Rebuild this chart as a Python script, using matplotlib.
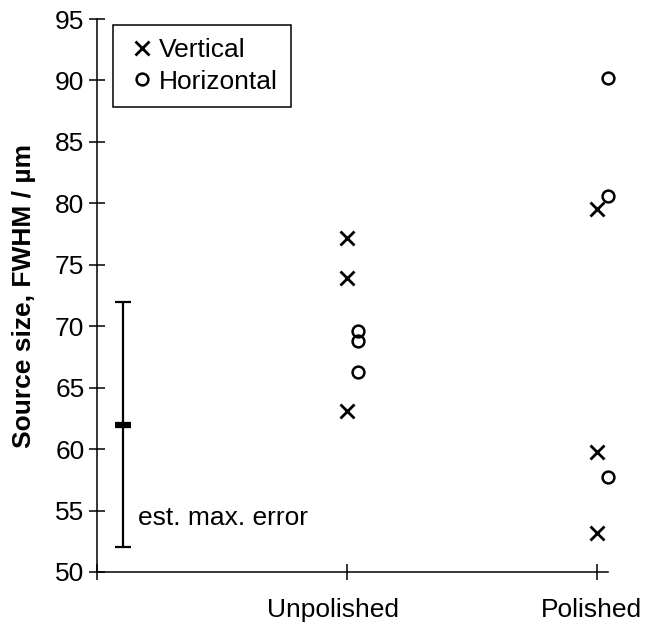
import matplotlib
matplotlib.use("Agg")
import matplotlib.pyplot as plt
from matplotlib.transforms import ScaledTranslation

plt.rcParams['font.family'] = ['Liberation Sans', 'DejaVu Sans']

categories = ['Unpolished', 'Polished']
cat_pos = [1, 2]
h_offset = 0.045

# source size, FWHM in um
vertical = {'Unpolished': [77.2, 73.9, 63.1], 'Polished': [79.5, 59.8, 53.2]}
horizontal = {'Unpolished': [69.6, 68.8, 66.3], 'Polished': [90.2, 80.6, 57.7]}

err_x = 0.105
err_center = 62.0
err_half = 10.0

fig = plt.figure(figsize=(6.51, 6.26), dpi=100)
ax = fig.add_axes([0.149, 0.0863, 0.785, 0.8833])

for cat, xpos in zip(categories, cat_pos):
    v = vertical[cat]
    h = horizontal[cat]
    ax.plot([xpos] * len(v), v, 'x', color='black', markersize=10, mew=2.0,
            label='Vertical' if cat == 'Unpolished' else None, clip_on=False)
    ax.plot([xpos + h_offset] * len(h), h, 'o', mfc='none', mec='black',
            markersize=8.5, mew=1.8,
            label='Horizontal' if cat == 'Unpolished' else None, clip_on=False)

# estimated max. error bar
ax.errorbar([err_x], [err_center], yerr=[err_half], fmt='none', ecolor='black',
            elinewidth=1.6, capsize=5.5, capthick=1.6)
ax.plot([err_x], [err_center], '_', color='black', markersize=11, mew=4.5)
ax.text(err_x + 0.06, 54.4, 'est. max. error', fontsize=19, va='center', ha='left')

ax.set_xlim(0, 2.044)
ax.set_ylim(50, 95)
ax.set_yticks(range(50, 96, 5))
ax.set_xticks([0] + cat_pos)
ax.set_xticklabels([''] + categories)

for s in ['top', 'right']:
    ax.spines[s].set_visible(False)
for s in ['left', 'bottom']:
    ax.spines[s].set_linewidth(1.1)

ax.tick_params(axis='both', direction='inout', length=12, width=1.1,
               labelsize=19)
ax.tick_params(axis='y', pad=3)
ax.tick_params(axis='x', pad=13)

# the category labels sit a little left of their ticks
for lab, dx in zip(ax.get_xticklabels(), [0, -10, -4]):
    lab.set_transform(lab.get_transform() + ScaledTranslation(dx / 72, 0, fig.dpi_scale_trans))

ax.set_ylabel('Source size, FWHM / µm', fontsize=19, fontweight='bold', labelpad=14)

leg = ax.legend(loc='upper left', bbox_to_anchor=(0.031, 0.99), fontsize=19,
                frameon=True, fancybox=False, edgecolor='black', framealpha=1,
                handlelength=1.2, handletextpad=0.05, borderpad=0.5,
                labelspacing=0.3, borderaxespad=0)
leg.get_frame().set_linewidth(1.1)

fig.savefig('out.png', dpi=100)
